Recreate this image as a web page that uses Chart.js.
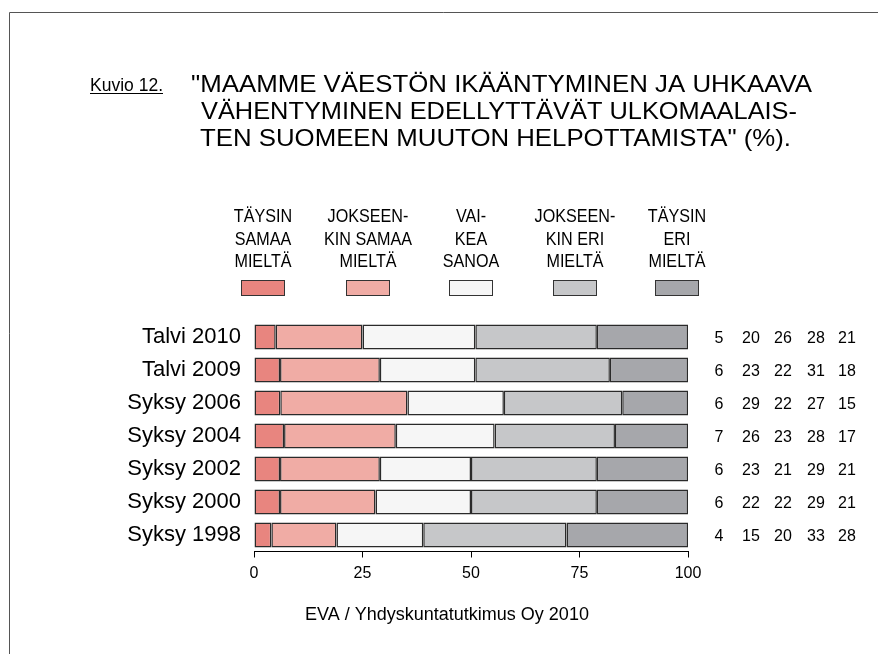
<!DOCTYPE html>
<html>
<head>
<meta charset="utf-8">
<script src="https://cdn.jsdelivr.net/npm/chart.js@4.4.1/dist/chart.umd.min.js"></script>
<style>
  html, body { margin: 0; padding: 0; background: #fff; }
  #wrap { width: 878px; height: 654px; }
</style>
</head>
<body>
<div id="wrap"><canvas id="myChart" width="878" height="654"></canvas></div>
<script>
// data
var categories = ['Talvi 2010', 'Talvi 2009', 'Syksy 2006', 'Syksy 2004', 'Syksy 2002', 'Syksy 2000', 'Syksy 1998'];
var taysinSamaa     = [5, 6, 6, 7, 6, 6, 4];
var jokseenkinSamaa = [20, 23, 29, 26, 23, 22, 15];
var vaikeaSanoa     = [26, 22, 22, 23, 21, 22, 20];
var jokseenkinEri   = [28, 31, 27, 28, 29, 29, 33];
var taysinEri       = [21, 18, 15, 17, 21, 21, 28];
var xTicks = [0, 25, 50, 75, 100];

var seriesNames = ['Täysin samaa mieltä', 'Jokseenkin samaa mieltä', 'Vaikea sanoa', 'Jokseenkin eri mieltä', 'Täysin eri mieltä'];
var legendLines = [
  ['TÄYSIN', 'SAMAA', 'MIELTÄ'],
  ['JOKSEEN-', 'KIN SAMAA', 'MIELTÄ'],
  ['VAI-', 'KEA', 'SANOA'],
  ['JOKSEEN-', 'KIN ERI', 'MIELTÄ'],
  ['TÄYSIN', 'ERI', 'MIELTÄ']
];
var titleLines = [
  '"MAAMME VÄESTÖN IKÄÄNTYMINEN JA UHKAAVA',
  'VÄHENTYMINEN EDELLYTTÄVÄT ULKOMAALAIS-',
  'TEN SUOMEEN MUUTON HELPOTTAMISTA" (%).'
];
var figLabel = 'Kuvio 12.';
var source = 'EVA / Yhdyskuntatutkimus Oy 2010';

var allSeries = [taysinSamaa, jokseenkinSamaa, vaikeaSanoa, jokseenkinEri, taysinEri];
var colors = ['#e8857f', '#f0aca5', '#f6f6f6', '#c6c7c9', '#a6a7ab'];

// rows are drawn as full 100 % bars (rounded labels don't always sum to 100)
var rowSums = categories.map(function(c, i) {
  return allSeries.reduce(function(s, arr) { return s + arr[i]; }, 0);
});

var FONT = '"Liberation Sans", Arial, sans-serif';

// draw text squeezed horizontally to look like the narrow face in the original
function narrowText(ctx, text, x, y, sx, align) {
  ctx.save();
  ctx.translate(x, y);
  ctx.scale(sx, 1);
  ctx.textAlign = align || 'left';
  ctx.fillText(text, 0, 0);
  ctx.restore();
}
function fitText(ctx, text, x, y, width) {
  var w = ctx.measureText(text).width;
  narrowText(ctx, text, x, y, width / w, 'left');
}

var decor = {
  id: 'decor',
  afterDraw: function(chart) {
    var ctx = chart.ctx;
    var y = chart.scales.y;
    ctx.save();

    // frame
    ctx.strokeStyle = '#555';
    ctx.lineWidth = 1;
    ctx.beginPath();
    ctx.moveTo(9.5, 654); ctx.lineTo(9.5, 12.5); ctx.lineTo(878, 12.5);
    ctx.stroke();

    ctx.fillStyle = '#000';
    ctx.textBaseline = 'alphabetic';

    // figure label, underlined
    ctx.font = '18px ' + FONT;
    fitText(ctx, figLabel, 90, 91, 73);
    ctx.fillRect(90, 93, 73, 1);

    // title
    ctx.font = '24px ' + FONT;
    var tx = [191, 201, 200], tw = [621, 596, 591], ty = [92, 119, 146];
    titleLines.forEach(function(t, i) { fitText(ctx, t, tx[i], ty[i], tw[i]); });

    // legend
    var lx = [263, 368, 471, 575, 677];
    ctx.font = '19px ' + FONT;
    legendLines.forEach(function(lines, i) {
      lines.forEach(function(t, j) {
        narrowText(ctx, t, lx[i], 222 + j * 22.5, 0.85, 'center');
      });
      ctx.fillStyle = colors[i];
      ctx.fillRect(lx[i] - 22, 280, 44, 16);
      ctx.strokeStyle = '#333';
      ctx.strokeRect(lx[i] - 22 + 0.5, 280.5, 43, 15);
      ctx.fillStyle = '#000';
    });

    // values at the right
    var cx = [719, 751, 783, 816, 847];
    ctx.font = '16px ' + FONT;
    ctx.textAlign = 'center';
    categories.forEach(function(c, i) {
      var py = y.getPixelForValue(i);
      allSeries.forEach(function(arr, k) {
        ctx.fillText(String(arr[i]), cx[k], py + 6);
      });
    });

    // source
    ctx.font = '18px ' + FONT;
    ctx.fillText(source, 447, 620);
    ctx.restore();
  }
};

var ctx = document.getElementById('myChart').getContext('2d');
var chart = new Chart(ctx, {
  type: 'bar',
  data: {
    labels: categories,
    datasets: allSeries.map(function(arr, k) {
      return {
        label: seriesNames[k],
        data: arr.map(function(v, i) { return v / rowSums[i] * 100; }),
        backgroundColor: colors[k],
        borderColor: '#2a2a2a',
        borderWidth: 1.5,
        borderSkipped: false,
        barPercentage: 0.76,
        categoryPercentage: 1
      };
    })
  },
  options: {
    indexAxis: 'y',
    responsive: false,
    animation: false,
    layout: { padding: { left: 0, right: 190, top: 320.5, bottom: 62.5 } },
    plugins: { legend: { display: false }, tooltip: { enabled: false }, title: { display: false } },
    scales: {
      x: {
        stacked: true,
        min: 0,
        max: 100,
        afterBuildTicks: function(scale) { scale.ticks = xTicks.map(function(v) { return { value: v }; }); },
        afterFit: function(scale) { scale.height = 40; },
        ticks: { color: '#000', font: { family: FONT, size: 16 }, padding: 6 },
        grid: { drawOnChartArea: false, drawTicks: true, tickLength: 6, color: '#000' },
        border: { display: true, color: '#000', width: 1 }
      },
      y: {
        stacked: true,
        afterFit: function(scale) { scale.width = 254; },
        ticks: { color: '#000', font: { family: FONT, size: 22 }, padding: 13 },
        grid: { display: false, drawTicks: false },
        border: { display: false }
      }
    }
  },
  plugins: [decor]
});
</script>
</body>
</html>
